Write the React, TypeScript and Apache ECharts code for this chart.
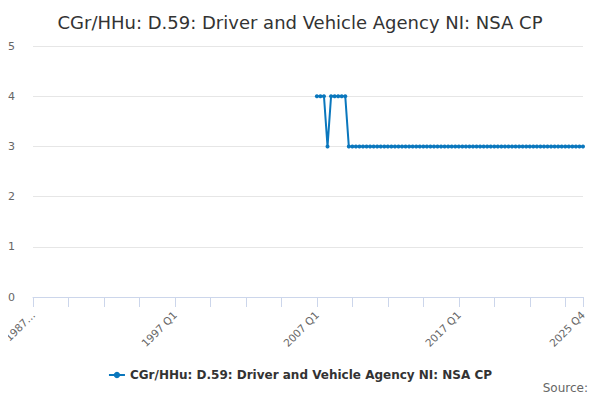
import React, { useEffect, useRef } from "react";
import * as echarts from "echarts";

const startYear = 1987;
const endYear = 2025;
const categories: string[] = [];
for (let y = startYear; y <= endYear; y++) {
  for (let q = 1; q <= 4; q++) categories.push(`${y} Q${q}`);
}

const seriesName = "CGr/HHu: D.59: Driver and Vehicle Agency NI: NSA CP";
const seriesStart = "2007 Q1";
const seriesValues: number[] = [
  4, 4, 4, 3, 4, 4, 4, 4, 4,
  3, 3, 3, 3, 3, 3, 3, 3, 3, 3,
  3, 3, 3, 3, 3, 3, 3, 3, 3, 3,
  3, 3, 3, 3, 3, 3, 3, 3, 3, 3,
  3, 3, 3, 3, 3, 3, 3, 3, 3, 3,
  3, 3, 3, 3, 3, 3, 3, 3, 3, 3,
  3, 3, 3, 3, 3, 3, 3, 3, 3, 3,
  3, 3, 3, 3, 3, 3, 3,
];
const yTicks = [0, 1, 2, 3, 4, 5];

export default function App() {
  const ref = useRef<HTMLDivElement>(null);
  useEffect(() => {
    if (!ref.current) return;
    const chart = echarts.init(ref.current, null, { renderer: "svg" });
    const startIdx = categories.indexOf(seriesStart);
    const data = categories.map((_, i) => {
      const k = i - startIdx;
      return k >= 0 && k < seriesValues.length ? seriesValues[k] : null;
    });
    const last = categories.length - 1;
    const font = "'DejaVu Sans', sans-serif";
    chart.setOption({
      animation: false,
      textStyle: { fontFamily: font },
      title: {
        text: "CGr/HHu: D.59: Driver and Vehicle Agency NI: NSA CP",
        left: "center",
        top: 8,
        textStyle: { fontSize: 18, fontWeight: "normal", color: "#333333", fontFamily: font },
      },
      grid: { left: 33, right: 17, top: 46, bottom: 103, containLabel: false, outerBoundsMode: "none" },
      xAxis: {
        type: "category",
        data: categories,
        boundaryGap: false,
        axisLine: { lineStyle: { color: "#ccd6eb" } },
        axisTick: {
          length: 10,
          lineStyle: { color: "#ccd6eb" },
          interval: (i: number) => i % 10 === 0 || i === last,
        },
        axisLabel: {
          rotate: 45,
          color: "#666666",
          fontSize: 10.5,
          margin: 16,
          fontFamily: font,
          hideOverlap: false,
          interval: (i: number) => i % 40 === 0 || i === last,
          formatter: (v: string, i: number) => (i === 0 ? v.slice(0, 4) + "\u2026" : v),
        },
        splitLine: { show: false },
      },
      yAxis: {
        type: "value",
        min: yTicks[0],
        max: yTicks[yTicks.length - 1],
        interval: 1,
        axisLine: { show: false },
        axisTick: { show: false },
        axisLabel: { color: "#666666", fontSize: 11, margin: 18, fontFamily: font },
        splitLine: { lineStyle: { color: "#e6e6e6" } },
      },
      legend: {
        top: 364,
        left: "center",
        itemWidth: 16,
        itemHeight: 8,
        textStyle: { fontSize: 12, fontWeight: "bold", color: "#333333", fontFamily: font },
        data: [seriesName],
      },
      graphic: [
        {
          type: "text",
          right: 12,
          top: 382,
          style: { text: "Source:", fontSize: 12, fill: "#666666", fontFamily: font },
        },
      ],
      series: [
        {
          name: seriesName,
          type: "line",
          data,
          color: "#0a77bd",
          lineStyle: { width: 2, color: "#0a77bd" },
          itemStyle: { color: "#0a77bd" },
          symbol: "circle",
          symbolSize: 4,
          showSymbol: true,
          showAllSymbol: true,
          connectNulls: false,
        },
      ],
    });
    return () => chart.dispose();
  }, []);
  return <div ref={ref} style={{ width: 600, height: 400, margin: -8 }} />;
}
